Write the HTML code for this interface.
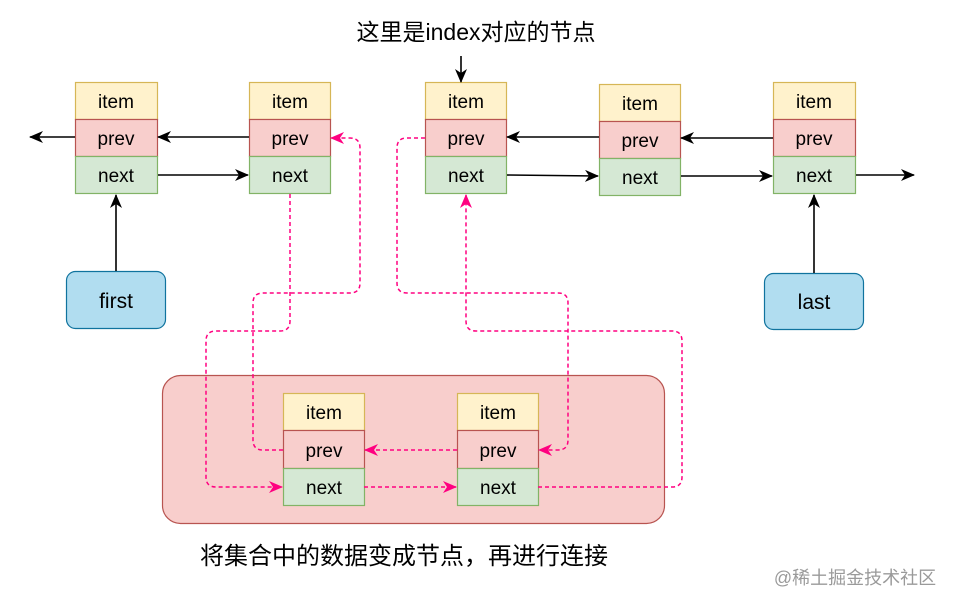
<!DOCTYPE html>
<html><head><meta charset="utf-8"><style>
html,body{margin:0;padding:0;background:#fff;}
svg{display:block;}
text{font-family:"Liberation Sans","Noto Sans CJK SC",sans-serif;}
</style></head><body>
<svg width="953" height="606" viewBox="0 0 953 606" xmlns="http://www.w3.org/2000/svg">
<defs>
<marker id="ab" viewBox="0 0 14 12" refX="13" refY="6" markerWidth="14" markerHeight="12" markerUnits="userSpaceOnUse" orient="auto">
<path d="M0,0 L14,6 L0,12 L4,6 Z" fill="#000"/></marker>
<marker id="ap" viewBox="0 0 14 12" refX="13" refY="6" markerWidth="14" markerHeight="12" markerUnits="userSpaceOnUse" orient="auto">
<path d="M0,0 L14,6 L0,12 L4,6 Z" fill="#ff0080"/></marker>
</defs>
<rect x="162.5" y="375.5" width="502" height="148" rx="18" fill="#f8cecc" stroke="#b85450" stroke-width="1.2"/>
<g font-size="19" text-anchor="middle" stroke-width="1.2">
<rect x="75.5" y="82.5" width="82" height="37" fill="#fff2cc" stroke="#d6b656"/><rect x="75.5" y="119.5" width="82" height="37" fill="#f8cecc" stroke="#b85450"/><rect x="75.5" y="156.5" width="82" height="37" fill="#d5e8d4" stroke="#82b366"/>
<text x="116" y="108">item</text><text x="116" y="145">prev</text><text x="116" y="182">next</text>
<rect x="249.5" y="82.5" width="81" height="37" fill="#fff2cc" stroke="#d6b656"/><rect x="249.5" y="119.5" width="81" height="37" fill="#f8cecc" stroke="#b85450"/><rect x="249.5" y="156.5" width="81" height="37" fill="#d5e8d4" stroke="#82b366"/>
<text x="290" y="108">item</text><text x="290" y="145">prev</text><text x="290" y="182">next</text>
<rect x="425.5" y="82.5" width="81" height="37" fill="#fff2cc" stroke="#d6b656"/><rect x="425.5" y="119.5" width="81" height="37" fill="#f8cecc" stroke="#b85450"/><rect x="425.5" y="156.5" width="81" height="37" fill="#d5e8d4" stroke="#82b366"/>
<text x="466" y="108">item</text><text x="466" y="145">prev</text><text x="466" y="182">next</text>
<rect x="599.5" y="84.5" width="81" height="37" fill="#fff2cc" stroke="#d6b656"/><rect x="599.5" y="121.5" width="81" height="37" fill="#f8cecc" stroke="#b85450"/><rect x="599.5" y="158.5" width="81" height="37" fill="#d5e8d4" stroke="#82b366"/>
<text x="640" y="110">item</text><text x="640" y="147">prev</text><text x="640" y="184">next</text>
<rect x="773.5" y="82.5" width="82" height="37" fill="#fff2cc" stroke="#d6b656"/><rect x="773.5" y="119.5" width="82" height="37" fill="#f8cecc" stroke="#b85450"/><rect x="773.5" y="156.5" width="82" height="37" fill="#d5e8d4" stroke="#82b366"/>
<text x="814" y="108">item</text><text x="814" y="145">prev</text><text x="814" y="182">next</text>
<rect x="283.5" y="393.5" width="81" height="37" fill="#fff2cc" stroke="#d6b656"/><rect x="283.5" y="430.5" width="81" height="38" fill="#f8cecc" stroke="#b85450"/><rect x="283.5" y="468.5" width="81" height="37" fill="#d5e8d4" stroke="#82b366"/>
<text x="324" y="419">item</text><text x="324" y="457">prev</text><text x="324" y="494">next</text>
<rect x="457.5" y="393.5" width="81" height="37" fill="#fff2cc" stroke="#d6b656"/><rect x="457.5" y="430.5" width="81" height="38" fill="#f8cecc" stroke="#b85450"/><rect x="457.5" y="468.5" width="81" height="37" fill="#d5e8d4" stroke="#82b366"/>
<text x="498" y="419">item</text><text x="498" y="457">prev</text><text x="498" y="494">next</text>
<rect x="66.5" y="271.5" width="99" height="57" rx="9" fill="#b1ddf0" stroke="#10739e"/>
<text x="116" y="308" font-size="21">first</text>
<rect x="764.5" y="273.5" width="99" height="56" rx="9" fill="#b1ddf0" stroke="#10739e"/>
<text x="814" y="309" font-size="21">last</text>
</g>
<g stroke="#000" stroke-width="1.6" fill="none" marker-end="url(#ab)">
<line x1="75" y1="137" x2="30" y2="137"/>
<line x1="249" y1="137" x2="158" y2="137"/>
<line x1="158" y1="175" x2="248" y2="175"/>
<line x1="116" y1="271" x2="116" y2="195"/>
<line x1="461" y1="56" x2="461" y2="82"/>
<line x1="599" y1="137" x2="507" y2="137"/>
<line x1="507" y1="175" x2="598" y2="176"/>
<line x1="773" y1="138" x2="681" y2="138"/>
<line x1="681" y1="176" x2="772" y2="176"/>
<line x1="856" y1="175" x2="914" y2="175"/>
<line x1="814" y1="273" x2="814" y2="195"/>
</g>
<g stroke="#ff0080" stroke-width="1.5" fill="none" stroke-dasharray="4,3" marker-end="url(#ap)">
<path d="M290,194 V321 Q290,331 280,331 H216 Q206,331 206,341 V477 Q206,487 216,487 H282"/>
<path d="M283,450 H263 Q253,450 253,440 V303 Q253,293 263,293 H350 Q360,293 360,283 V148 Q360,138 350,138 H331"/>
<path d="M425,138 H407 Q397,138 397,148 V283 Q397,293 407,293 H558 Q568,293 568,303 V440 Q568,450 558,450 H539"/>
<path d="M538,487 H672 Q682,487 682,477 V341 Q682,331 672,331 H476 Q466,331 466,321 V195"/>
<path d="M364,487 H456"/>
<path d="M457,450 H365"/>
</g>
<text x="476" y="40" font-size="23" text-anchor="middle" fill="#000">这里是index对应的节点</text>
<text x="404" y="564" font-size="24" text-anchor="middle" fill="#000">将集合中的数据变成节点，再进行连接</text>
<text x="855" y="584" font-size="18" text-anchor="middle" fill="#9a9a9a">@稀土掘金技术社区</text>
</svg>
</body></html>
